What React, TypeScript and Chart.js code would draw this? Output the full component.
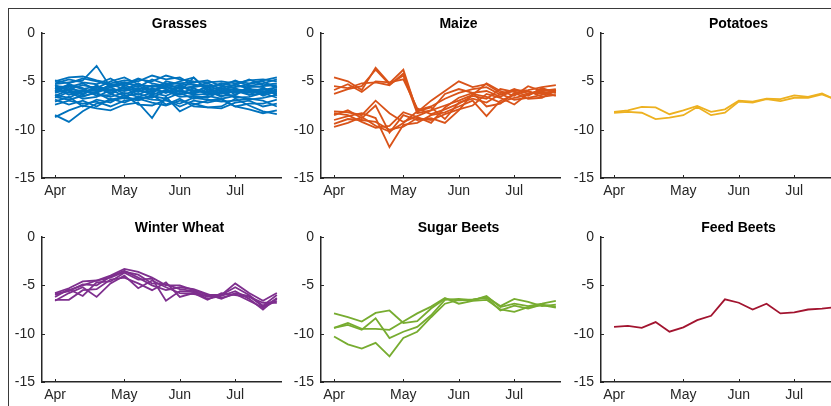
import React, { useEffect, useRef } from 'react';
import { Chart, registerables } from 'chart.js';

Chart.register(...registerables);

// ---- data ----
const weekIndex = [0, 1, 2, 3, 4, 5, 6, 7, 8, 9, 10, 11, 12, 13, 14, 15, 16];
const monthTickPositions = [0, 5, 9, 13];
const monthLabels = ['Apr', 'May', 'Jun', 'Jul'];
const yTicks = [0, -5, -10, -15];

const grassesSeries = [
  [-5.0, -4.6, -4.5, -4.9, -5.2, -4.9, -5.0, -4.4, -4.8, -4.6, -5.4, -5.6, -5.3, -5.0, -5.2, -4.9, -4.6],
  [-5.3, -5.1, -4.9, -3.4, -5.6, -5.3, -4.7, -5.2, -5.5, -5.0, -4.6, -5.9, -5.6, -5.4, -4.8, -5.4, -5.2],
  [-5.6, -5.8, -5.4, -5.7, -5.0, -4.6, -5.3, -5.6, -5.2, -5.8, -5.5, -5.2, -5.8, -5.6, -5.3, -5.0, -5.7],
  [-5.9, -6.2, -5.9, -6.0, -5.8, -6.0, -5.7, -5.9, -6.1, -5.5, -6.0, -6.1, -5.9, -6.2, -5.9, -6.1, -5.9],
  [-6.1, -5.5, -6.3, -5.4, -6.2, -5.6, -6.1, -5.4, -5.8, -6.3, -5.7, -6.4, -6.2, -5.7, -6.4, -5.8, -6.3],
  [-6.4, -6.7, -6.0, -6.3, -6.6, -6.2, -6.6, -6.2, -6.5, -5.9, -6.3, -5.8, -6.5, -6.4, -5.7, -6.5, -6.0],
  [-6.7, -6.1, -6.8, -6.6, -5.9, -6.5, -6.3, -6.7, -6.0, -6.6, -6.5, -6.7, -6.0, -6.7, -6.6, -6.2, -6.7],
  [-7.4, -7.0, -7.3, -7.1, -7.6, -7.0, -6.8, -7.2, -7.5, -7.0, -7.3, -7.7, -7.8, -7.2, -7.0, -7.6, -7.3],
  [-8.7, -8.0, -7.5, -7.8, -8.0, -7.4, -7.2, -8.8, -6.6, -8.1, -7.4, -7.0, -6.8, -7.6, -7.9, -8.3, -8.0],
  [-8.5, -9.2, -8.1, -7.3, -7.0, -6.7, -7.0, -6.4, -7.4, -6.8, -7.6, -7.7, -7.6, -6.8, -7.5, -8.1, -8.4],
  [-5.4, -6.0, -6.6, -6.1, -5.3, -5.8, -5.5, -5.9, -5.6, -6.1, -4.6, -6.0, -6.6, -5.9, -6.0, -6.4, -5.5],
  [-6.0, -5.3, -5.7, -6.5, -6.4, -5.4, -5.9, -6.3, -5.0, -5.3, -6.2, -5.5, -5.4, -6.4, -5.5, -5.6, -6.5],
  [-5.2, -4.8, -5.1, -5.3, -4.7, -5.5, -4.8, -5.0, -4.4, -4.8, -5.0, -5.1, -5.0, -5.2, -4.9, -4.8, -5.0],
  [-6.9, -7.4, -7.0, -7.6, -6.8, -7.2, -6.6, -6.9, -7.0, -7.3, -6.7, -6.9, -7.1, -7.0, -6.8, -7.0, -7.6],
  [-5.7, -6.4, -6.1, -5.8, -6.0, -5.7, -6.4, -5.7, -6.2, -5.6, -5.9, -6.2, -5.7, -5.9, -6.2, -5.7, -6.1],
  [-6.5, -5.9, -6.4, -5.6, -6.3, -6.8, -5.8, -6.4, -5.9, -6.4, -6.1, -5.6, -6.3, -6.0, -6.4, -6.3, -5.8],
  [-4.9, -5.2, -4.7, -5.0, -5.4, -5.1, -5.6, -4.8, -5.3, -5.2, -5.1, -4.9, -5.5, -4.9, -5.5, -5.2, -4.8],
  [-7.1, -6.6, -7.6, -6.9, -7.2, -6.4, -7.4, -7.5, -6.9, -7.6, -7.0, -7.2, -6.9, -7.6, -7.3, -7.3, -6.9],
  [-5.5, -5.6, -5.2, -5.9, -5.5, -5.2, -5.4, -5.5, -5.7, -5.4, -5.3, -5.7, -5.2, -5.5, -5.6, -5.5, -5.4],
  [-6.2, -5.8, -6.0, -6.2, -5.6, -6.3, -6.0, -6.1, -5.5, -6.0, -6.4, -6.3, -6.1, -5.8, -6.0, -6.2, -6.2],
  [-6.6, -6.9, -6.5, -6.2, -6.9, -6.6, -6.9, -6.5, -6.8, -6.2, -6.8, -6.5, -6.8, -6.5, -6.9, -6.7, -6.4],
  [-5.8, -5.4, -5.8, -5.5, -5.9, -5.9, -5.2, -6.0, -5.4, -5.7, -5.6, -5.4, -6.0, -5.3, -5.8, -5.9, -5.6],
];

const maizeSeries = [
  [-4.6, -5.0, -5.9, -3.6, -5.2, -3.8, -8.2, -7.0, -6.0, -5.0, -5.6, -5.3, -6.2, -6.0, -5.9, -5.6, -5.4],
  [-5.5, -5.7, -5.2, -5.1, -5.4, -4.2, -8.0, -7.6, -6.8, -6.2, -5.8, -5.6, -6.4, -5.8, -6.3, -6.0, -5.8],
  [-6.3, -5.8, -5.5, -3.8, -5.3, -4.4, -8.3, -8.0, -7.5, -7.0, -6.4, -5.2, -6.0, -6.5, -5.5, -6.0, -5.9],
  [-5.9, -5.3, -6.1, -5.0, -5.1, -4.8, -7.8, -8.4, -7.9, -7.3, -6.5, -6.8, -5.8, -6.1, -6.5, -5.7, -6.2],
  [-8.1, -8.2, -8.5, -7.0, -8.3, -9.2, -8.6, -8.0, -6.3, -5.8, -6.2, -6.0, -6.6, -5.9, -6.1, -6.3, -6.0],
  [-8.5, -8.0, -8.8, -7.5, -10.3, -8.5, -9.0, -8.8, -9.3, -8.0, -6.3, -6.6, -7.2, -6.7, -6.4, -5.8, -6.2],
  [-9.0, -8.6, -8.3, -8.8, -11.8, -9.5, -9.3, -8.5, -8.2, -7.6, -7.0, -8.6, -7.0, -6.4, -6.0, -6.6, -6.4],
  [-9.4, -8.9, -9.0, -9.2, -10.0, -9.7, -8.8, -9.0, -8.4, -7.9, -7.5, -6.3, -6.7, -7.4, -6.3, -6.1, -6.5],
  [-9.7, -9.3, -8.7, -9.6, -10.2, -9.3, -8.1, -7.7, -8.9, -7.2, -6.8, -7.2, -6.3, -6.9, -6.7, -6.4, -6.1],
  [-8.3, -8.5, -9.2, -9.8, -9.6, -8.2, -8.7, -9.3, -7.7, -6.7, -6.2, -7.6, -7.3, -6.2, -6.8, -6.7, -5.9],
];

const potatoesSeries = [
  [-8.15, -8.0, -7.65, -7.7, -8.4, -8.0, -7.55, -8.15, -7.9, -7.0, -7.1, -6.8, -6.85, -6.45, -6.6, -6.25, -6.9],
  [-8.25, -8.15, -8.25, -8.9, -8.75, -8.5, -7.65, -8.5, -8.25, -7.1, -7.2, -6.85, -7.05, -6.7, -6.7, -6.35, -6.9],
];

const winterWheatSeries = [
  [-5.8, -5.3, -4.6, -4.5, -4.0, -3.3, -3.6, -4.2, -5.0, -5.0, -5.5, -6.0, -6.0, -4.8, -5.8, -6.6, -5.8],
  [-6.0, -5.5, -5.0, -4.5, -4.2, -3.6, -3.9, -4.8, -4.9, -5.4, -5.6, -6.2, -6.0, -5.2, -6.0, -7.1, -6.0],
  [-6.2, -5.4, -6.1, -4.7, -4.6, -3.7, -4.4, -4.3, -6.6, -5.6, -5.7, -6.4, -6.1, -5.6, -6.4, -7.5, -6.3],
  [-6.6, -5.8, -5.2, -6.2, -4.8, -4.0, -5.3, -4.5, -5.2, -5.8, -5.9, -6.1, -6.3, -5.9, -6.6, -7.3, -6.6],
  [-6.5, -6.5, -5.5, -5.4, -4.4, -4.2, -4.8, -5.5, -4.7, -6.2, -5.8, -6.5, -5.8, -6.0, -6.2, -6.8, -6.8],
  [-5.9, -5.6, -4.9, -5.0, -4.1, -3.5, -4.2, -5.0, -5.5, -5.2, -5.4, -5.9, -6.4, -5.8, -6.1, -7.2, -6.4],
];

const sugarBeetsSeries = [
  [-7.9, -8.3, -8.75, -7.85, -7.6, -8.9, -8.7, -7.4, -6.4, -6.55, -6.5, -6.2, -7.15, -6.4, -6.7, -7.15, -7.0],
  [-9.4, -9.1, -9.6, -8.4, -10.45, -9.8, -9.3, -8.1, -6.5, -6.4, -6.55, -6.1, -7.25, -6.9, -7.15, -6.9, -6.6],
  [-9.4, -8.9, -9.5, -9.5, -9.6, -8.75, -7.9, -7.2, -6.3, -6.9, -6.6, -6.5, -7.5, -7.75, -7.25, -7.05, -7.3],
  [-10.3, -11.1, -11.55, -10.95, -12.35, -10.45, -9.8, -8.3, -6.9, -6.5, -6.45, -6.3, -7.6, -7.1, -7.4, -7.0, -7.2],
];

const feedBeetsSeries = [
  [-9.3, -9.2, -9.4, -8.8, -9.8, -9.35, -8.6, -8.15, -6.45, -6.8, -7.5, -6.9, -7.9, -7.8, -7.5, -7.4, -7.25],
];

// ---- styling / layout ----
const FONT = '"Liberation Sans", Arial, Helvetica, sans-serif';
const AXIS = '#262626';
const CANVAS_W = 290;
const CANVAS_H = 205;
const AREA_LEFT = 42;
const AREA_TOP = 33;
const AREA_RIGHT = 281;
const AREA_BOTTOM = 178;
const X_MIN = -0.94;
const X_MAX = 16.3;
const TITLE_OFFSET = 137.5;

const panels = [
  { title: 'Grasses', color: '#0072BD', series: grassesSeries, left: 0, top: 0 },
  { title: 'Maize', color: '#D95319', series: maizeSeries, left: 279, top: 0 },
  { title: 'Potatoes', color: '#EDB120', series: potatoesSeries, left: 559, top: 0 },
  { title: 'Winter Wheat', color: '#7E2F8E', series: winterWheatSeries, left: 0, top: 204 },
  { title: 'Sugar Beets', color: '#77AC30', series: sugarBeetsSeries, left: 279, top: 204 },
  { title: 'Feed Beets', color: '#A2142F', series: feedBeetsSeries, left: 559, top: 204 },
];

function decorPlugin(title: string) {
  return {
    id: 'decor',
    afterDraw(chart: any) {
      const { ctx, chartArea: a, scales } = chart;
      const x = scales.x;
      const y = scales.y;
      ctx.save();
      ctx.strokeStyle = AXIS;
      ctx.lineWidth = 1;
      ctx.beginPath();
      for (const v of monthTickPositions) {
        const px = Math.round(x.getPixelForValue(v)) + 0.5;
        ctx.moveTo(px, a.bottom);
        ctx.lineTo(px, a.bottom - 3);
      }
      for (const v of yTicks) {
        const py = Math.round(y.getPixelForValue(v)) + 0.5;
        ctx.moveTo(a.left, py);
        ctx.lineTo(a.left + 3, py);
      }
      ctx.stroke();
      ctx.fillStyle = '#000';
      ctx.font = `bold 14px ${FONT}`;
      ctx.textAlign = 'center';
      ctx.textBaseline = 'alphabetic';
      ctx.fillText(title, a.left + TITLE_OFFSET, a.top - 5);
      ctx.restore();
    },
  };
}

function Panel(props: { title: string; color: string; series: number[][]; left: number; top: number }) {
  const ref = useRef<HTMLCanvasElement>(null);
  useEffect(() => {
    const chart = new Chart(ref.current as HTMLCanvasElement, {
      type: 'line',
      data: {
        datasets: props.series.map((s) => ({
          data: s.map((v, i) => ({ x: weekIndex[i], y: v })),
          borderColor: props.color,
          backgroundColor: props.color,
          borderWidth: 1.8,
          pointRadius: 0,
          fill: false,
          tension: 0,
        })),
      },
      options: {
        responsive: false,
        animation: false,
        devicePixelRatio: 1,
        layout: {
          padding: { left: 0, top: AREA_TOP, right: CANVAS_W - AREA_RIGHT, bottom: 0 },
        },
        plugins: {
          legend: { display: false },
          tooltip: { enabled: false },
          title: { display: false },
        },
        scales: {
          x: {
            type: 'linear',
            min: X_MIN,
            max: X_MAX,
            grid: { display: false, drawTicks: false },
            border: { display: true, color: AXIS, width: 1.5 },
            ticks: {
              padding: 5,
              color: AXIS,
              font: { family: FONT, size: 14 },
              autoSkip: false,
              maxRotation: 0,
              callback: (v: any) => {
                const k = monthTickPositions.indexOf(Number(v));
                return k >= 0 ? monthLabels[k] : '';
              },
            },
            afterBuildTicks: (s: any) => {
              s.ticks = monthTickPositions.map((v) => ({ value: v }));
            },
            afterFit: (s: any) => {
              s.height = CANVAS_H - AREA_BOTTOM;
              s.paddingLeft = 0;
              s.paddingRight = 0;
              s.paddingTop = 0;
              s.paddingBottom = 0;
            },
          },
          y: {
            type: 'linear',
            min: -15,
            max: 0,
            grid: { display: false, drawTicks: false },
            border: { display: true, color: AXIS, width: 1.5 },
            ticks: {
              padding: 7,
              color: AXIS,
              font: { family: FONT, size: 14 },
              autoSkip: false,
            },
            afterBuildTicks: (s: any) => {
              s.ticks = yTicks.map((v) => ({ value: v }));
            },
            afterFit: (s: any) => {
              s.width = AREA_LEFT;
              s.paddingLeft = 0;
              s.paddingRight = 0;
              s.paddingTop = 0;
              s.paddingBottom = 0;
            },
          },
        },
      },
      plugins: [decorPlugin(props.title)],
    } as any);
    return () => chart.destroy();
  }, []);
  return (
    <canvas
      ref={ref}
      width={CANVAS_W}
      height={CANVAS_H}
      style={{ position: 'absolute', left: props.left, top: props.top, width: CANVAS_W, height: CANVAS_H }}
    />
  );
}

export default function App() {
  return (
    <div
      style={{
        position: 'absolute',
        left: 0,
        top: 0,
        width: 831,
        height: 406,
        overflow: 'hidden',
        background: '#fff',
      }}
    >
      <div
        style={{
          position: 'absolute',
          left: 8,
          top: 8,
          width: 1000,
          height: 1000,
          borderLeft: '1.5px solid #3a3a3a',
          borderTop: '1.5px solid #3a3a3a',
        }}
      />
      {panels.map((p) => (
        <Panel key={p.title} {...p} />
      ))}
    </div>
  );
}
